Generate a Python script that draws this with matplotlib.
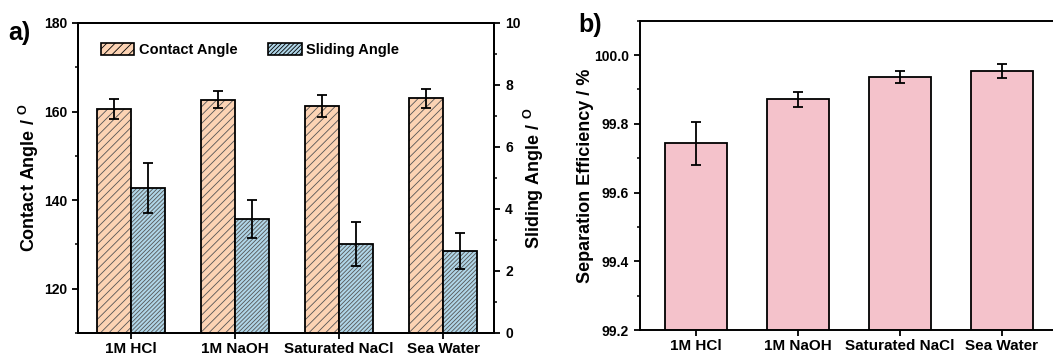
import matplotlib
matplotlib.use("Agg")
import matplotlib.pyplot as plt
import numpy as np
from matplotlib.ticker import MultipleLocator
from matplotlib.patches import Patch

plt.rcParams['font.family'] = ['Liberation Sans', 'DejaVu Sans']
plt.rcParams['font.weight'] = 'bold'
plt.rcParams['mathtext.fontset'] = 'custom'
plt.rcParams['mathtext.rm'] = 'Liberation Sans:bold'
plt.rcParams['mathtext.bf'] = 'Liberation Sans:bold'
plt.rcParams['mathtext.it'] = 'Liberation Sans:bold'
plt.rcParams['hatch.linewidth'] = 0.6

# ---- data ----
categories = ["1M HCl", "1M NaOH", "Saturated NaCl", "Sea Water"]
contact_angle = [160.6, 162.7, 161.2, 163.0]
contact_err = [2.3, 2.0, 2.5, 2.1]
sliding_angle = [4.67, 3.67, 2.87, 2.64]
sliding_err = [0.80, 0.61, 0.71, 0.57]
sep_eff = [99.743, 99.871, 99.937, 99.953]
sep_err = [0.062, 0.022, 0.018, 0.021]

c_contact = '#FCD3B4'
c_slide = '#B0D6E8'
c_sep = '#F4C2CB'
hatch_col = '#555555'
h_contact = '////'
h_slide = '////////'

fig = plt.figure(figsize=(10.53, 3.56), dpi=100)

# ---------- panel a ----------
axa = fig.add_axes([78/1053, 23/356, 416/1053, 310/356])
axr = axa.twinx()
x = np.arange(len(categories))
w = 0.33

axa.bar(x - w/2, contact_angle, w, color=c_contact, edgecolor=hatch_col,
        hatch=h_contact, linewidth=0, zorder=2)
axa.bar(x - w/2, contact_angle, w, color='none', edgecolor='black', linewidth=1.3, zorder=3)
axa.errorbar(x - w/2, contact_angle, yerr=contact_err, fmt='none', ecolor='black',
             elinewidth=1.3, capsize=3.5, capthick=1.3, zorder=4)

axr.bar(x + w/2, sliding_angle, w, color=c_slide, edgecolor=hatch_col,
        hatch=h_slide, linewidth=0, zorder=2)
axr.bar(x + w/2, sliding_angle, w, color='none', edgecolor='black', linewidth=1.3, zorder=3)
axr.errorbar(x + w/2, sliding_angle, yerr=sliding_err, fmt='none', ecolor='black',
             elinewidth=1.3, capsize=3.5, capthick=1.3, zorder=4)

axa.set_xlim(-0.51, 3.49)
axa.set_ylim(110, 180)
axr.set_ylim(0, 10)
axa.yaxis.set_major_locator(MultipleLocator(20))
axa.yaxis.set_minor_locator(MultipleLocator(10))
axr.yaxis.set_major_locator(MultipleLocator(2))
axr.yaxis.set_minor_locator(MultipleLocator(1))
axa.set_xticks(x)
axa.set_xticklabels(categories)

for ax in (axa, axr):
    for sp in ax.spines.values():
        sp.set_linewidth(1.4)
    ax.tick_params(which='major', direction='out', length=4.5, width=1.3, labelsize=10)
    ax.tick_params(which='minor', direction='out', length=2.5, width=1.1)
axa.tick_params(axis='x', which='major', labelsize=11, pad=2)
axa.tick_params(axis='x', which='minor', bottom=False)

axa.set_ylabel(r"Contact Angle / $^{\mathrm{O}}$", fontsize=13, fontweight='bold', labelpad=2)
axr.set_ylabel(r"Sliding Angle / $^{\mathrm{O}}$", fontsize=13, fontweight='bold', labelpad=1)

handles = [Patch(facecolor=c_contact, edgecolor='black', hatch=h_contact, linewidth=1.2),
           Patch(facecolor=c_slide, edgecolor='black', hatch=h_slide, linewidth=1.2)]
leg = axa.legend(handles, ["Contact Angle", "Sliding Angle"], ncol=2, frameon=False,
                 loc='upper left', bbox_to_anchor=(0.055, 0.935), borderaxespad=0, borderpad=0,
                 handlelength=2.3, handleheight=0.85, handletextpad=0.3, columnspacing=2.1,
                 prop={'weight': 'bold', 'size': 10.5})

fig.text(8/1053, 1 - 40/356, "a)", fontsize=18, fontweight='bold', ha='left', va='baseline')

# ---------- panel b ----------
axb = fig.add_axes([640/1053, 26/356, 418/1053, 309.3/356])
xb = np.arange(len(categories))
axb.bar(xb, sep_eff, 0.6, color=c_sep, edgecolor='black', linewidth=1.3, zorder=2)
axb.errorbar(xb, sep_eff, yerr=sep_err, fmt='none', ecolor='black',
             elinewidth=1.3, capsize=3.5, capthick=1.3, zorder=4)
axb.set_xlim(-0.55, 3.55)
axb.set_ylim(99.2, 100.1)
axb.yaxis.set_minor_locator(MultipleLocator(0.1))
axb.set_yticks([99.2, 99.4, 99.6, 99.8, 100.0])
axb.set_yticklabels(["99.2", "99.4", "99.6", "99.8", "100.0"])
axb.set_xticks(xb)
axb.set_xticklabels(categories)
for sp in axb.spines.values():
    sp.set_linewidth(1.4)
axb.tick_params(which='major', direction='out', length=4.5, width=1.3, labelsize=10)
axb.tick_params(which='minor', direction='out', length=2.5, width=1.1)
axb.tick_params(axis='x', which='major', labelsize=11, pad=2)
axb.tick_params(axis='x', which='minor', bottom=False)
axb.set_ylabel("Separation Efficiency / %", fontsize=13, fontweight='bold', labelpad=0)

fig.text(578/1053, 1 - 32/356, "b)", fontsize=18, fontweight='bold', ha='left', va='baseline')

fig.savefig("out.png", dpi=100)
